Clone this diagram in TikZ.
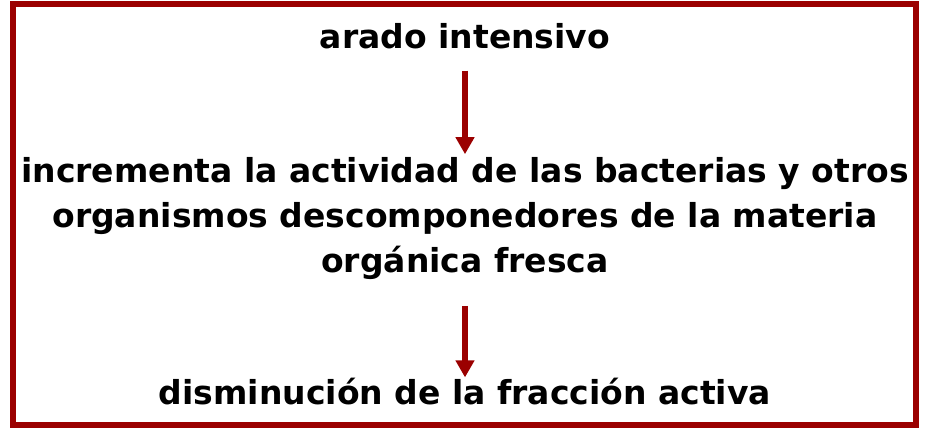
\documentclass[tikz,border=0pt]{standalone}
\usepackage{fontspec}
\setmainfont{DejaVu Sans}
\usetikzlibrary{arrows.meta}
\definecolor{darkred}{RGB}{155,0,0}
\begin{document}
\begin{tikzpicture}[x=1pt,y=1pt,
  txt/.style={font=\fontsize{33}{45}\selectfont\bfseries,inner sep=0pt,align=center},
  arr/.style={draw=darkred,line width=6pt,-{Triangle[width=18pt,length=17pt]}}]
\useasboundingbox (0,0) rectangle (940,437);
\draw[darkred,line width=6pt] (13,433) rectangle (916,12.5);
\node[txt,anchor=base] (top) at (465,388) {arado intensivo};
\node[txt,anchor=base] (bot) at (465,33) {disminución de la fracción activa};
\node[txt] (mid) at (465,218.5) {incrementa la actividad de las bacterias y otros\\organismos descomponedores de la materia\\orgánica fresca};
\draw[arr,shorten <=21pt,shorten >=3pt] (top.south) -- (mid.north);
\draw[arr,shorten <=26pt,shorten >=0pt] (mid.south) -- (bot.north);
\end{tikzpicture}
\end{document}
